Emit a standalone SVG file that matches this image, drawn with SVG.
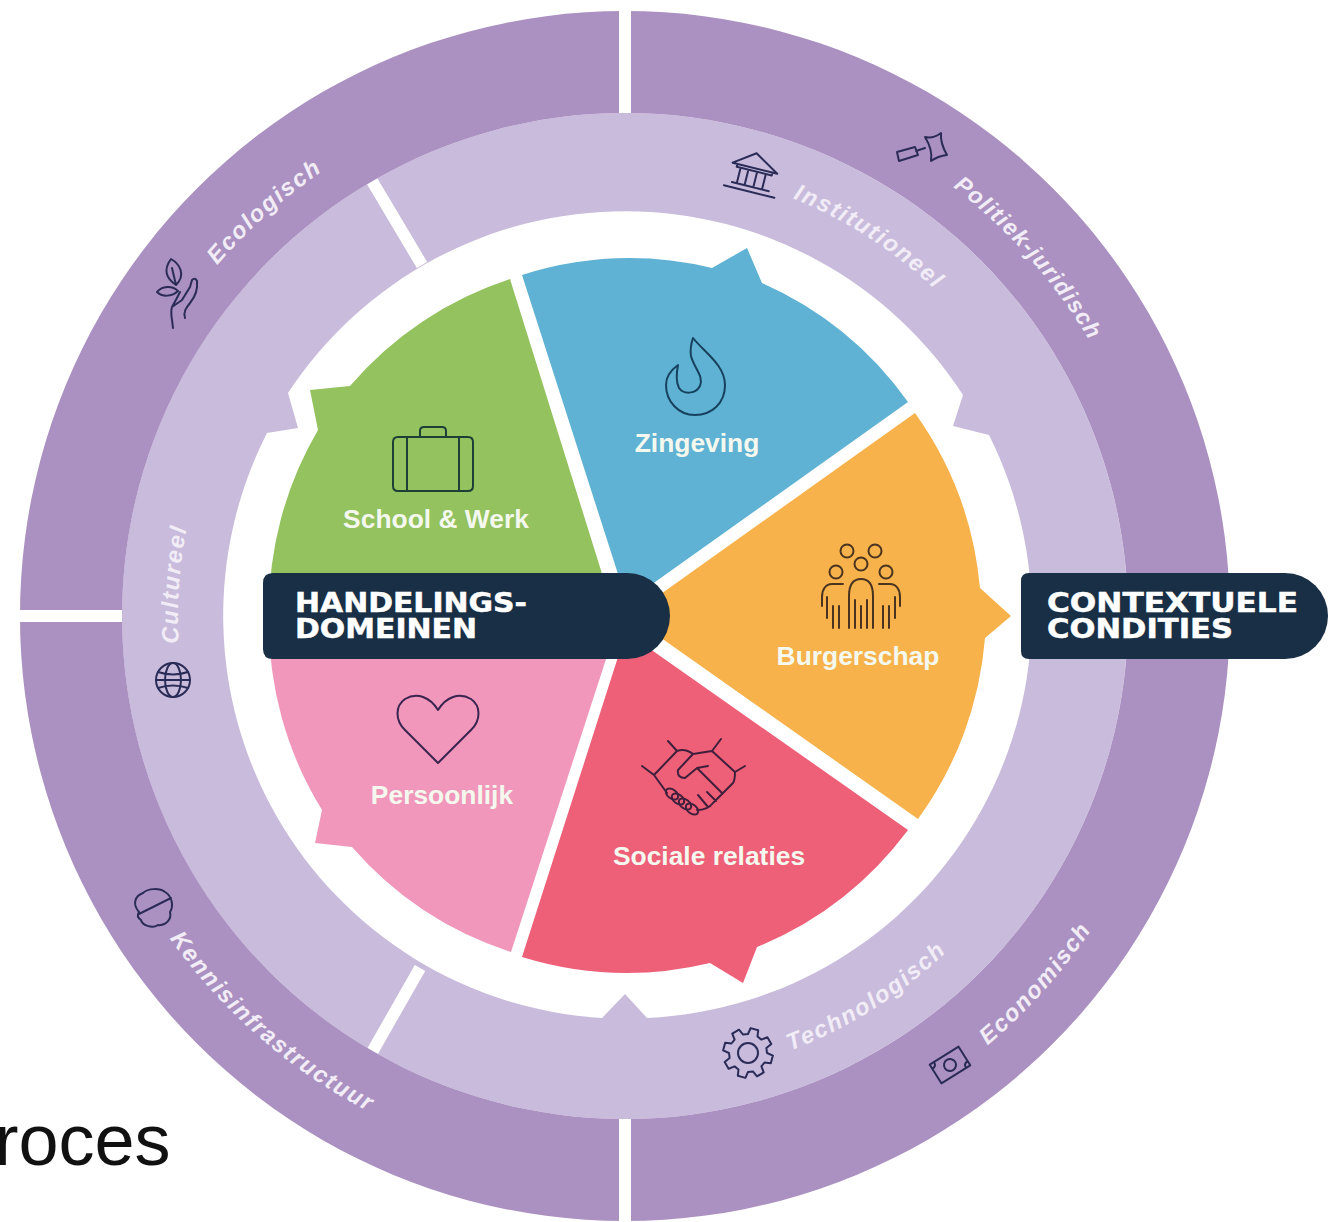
<svg xmlns="http://www.w3.org/2000/svg" width="1338" height="1222" viewBox="0 0 1338 1222">
<style>
text{font-family:"Liberation Sans",Arial,sans-serif}
.pl{font-weight:700;font-size:26.4px;fill:#f4f8ee;text-anchor:middle}
.rl{font-weight:700;font-style:italic;font-size:23.5px;letter-spacing:1.7px;fill:#f1ecf6}
.hd{font-family:"DejaVu Sans",sans-serif;font-weight:700;font-size:27px;fill:#fff;stroke:#fff;stroke-width:.5px}
.ic{fill:none;stroke-width:2;stroke-linejoin:round;stroke-linecap:round}
.nv{stroke:#2a2c57}
</style>
<defs>
<path id="a1" d="M952.9,187.2 A540,540 0 0 1 1146.6,476.1"/>
<path id="a2" d="M792.9,198.4 A450,450 0 0 1 1032.8,425.7"/>
<path id="a3" d="M217.2,265.2 A538,538 0 0 1 531.6,86.2"/>
<path id="a4" d="M178.9,643.3 A447,447 0 0 1 282.6,328.6"/>
<path id="a5" d="M790.1,1050.8 A465,465 0 0 0 1062,775"/>
<path id="a6" d="M987.5,1045.4 A562,562 0 0 0 1184.9,665"/>
<path id="a7" d="M169.7,938.5 A558,558 0 0 0 528.1,1165.5"/>
</defs>
<rect width="1338" height="1222" fill="#fff"/>
<g id="ring-inner">
<path fill="#c9bbdc" fill-rule="evenodd" d="M625,113 A503,503 0 1 1 624.9,113 Z M963,395 L953,426 L989,435 A403,403 0 0 1 647,1018 L625,994 L602,1018 A403,403 0 0 1 267,433 L298,428 L288,393 A403,403 0 0 1 963,395 Z"/>
<path d="M372,181 L422,265 M371,1054 L420,968" stroke="#fff" stroke-width="12" fill="none"/>
</g>
<g id="ring-outer">
<path fill="#ab91c1" fill-rule="evenodd" d="M625,11 A605,605 0 1 1 624.9,11 Z M625,113 A503,503 0 1 0 625.1,113 Z"/>
<path d="M619,5H631V113H619Z M619,1119H631V1222H619Z M14,610H122V622H14Z" fill="#fff"/>
</g>
<g id="school-werk">
<path fill="#93c25f" d="M604,580 L510,279 A356,356 0 0 0 350,386 L310,390 L318,430 A356,356 0 0 0 269,616 L616,616 Z"/>
<path class="ic" stroke="#1d3f36" d="M398,437H468Q473,437 473,442V486Q473,491 468,491H398Q393,491 393,486V442Q393,437 398,437Z M407,437V491 M459,437V491 M420,437V431Q420,427 424,427H442Q446,427 446,431V437"/>
<text class="pl" x="436" y="528">School &amp; Werk</text>
</g>
<g id="zingeving">
<path fill="#5fb2d3" d="M627,602 L522,275 A356,356 0 0 1 712,268 L747,248 L762,283 A356,356 0 0 1 908,402 Z"/>
<path class="ic" stroke="#17405e" d="M693,338 C704,352 725,365 725,385 C725,403 712,415 695,415 C678,415 666,401 666,385 C666,376 671,370 678,365 C676,375 676,382 679,388 C683,394 695,395 700,386 C704,376 694,368 691,356 C690,350 691,344 693,338 Z"/>
<text class="pl" x="697" y="452">Zingeving</text>
</g>
<g id="burgerschap">
<path fill="#f7b24b" d="M630,616 L915,413 A356,356 0 0 1 980,588 L1011,616 L985,638 A356,356 0 0 1 918,819 Z"/>
<g class="ic" stroke="#4a3420">
<circle cx="847" cy="551" r="6.5"/><circle cx="875" cy="551" r="6.5"/><circle cx="861" cy="564" r="6.5"/><circle cx="836" cy="572" r="6.5"/><circle cx="886" cy="572" r="6.5"/>
<path d="M849,628V596C849,585 853,579 861,579C869,579 873,585 873,596V628 M855,600V628 M861,606V628 M867,600V628 M843,584H832C826,584 822,589 822,597V606 M827,597V618 M833,606V628 M839,606V628 M879,584H890C896,584 900,589 900,597V606 M895,597V618 M889,606V628 M883,606V628"/>
</g>
<text class="pl" x="858" y="665">Burgerschap</text>
</g>
<g id="sociale-relaties">
<path fill="#ee5f78" d="M626,632 L908,830 A356,356 0 0 1 757,947 L743,983 L710,963 A356,356 0 0 1 522,957 Z"/>
<g class="ic" stroke="#3f1f3c">
<path d="M668,741L677,751 M642,766L654,775 M721,739L712,751 M745,766L735,772 M654,775L677,751 M712,751L735,772 M677,751Q685,748 693,754L712,751 M693,754L678,770Q677,778 685,778L697,768L708,766 M697,768L722,793 M735,772Q735,780 733,783L713,803Q708,810 697,810 M654,775L667,793 M698,795L708,807 M707,792L716,801"/>
<ellipse cx="672" cy="794" rx="7" ry="4.5" transform="rotate(38 672 794)"/><ellipse cx="678" cy="799" rx="7" ry="4.5" transform="rotate(38 678 799)"/><ellipse cx="685" cy="804" rx="7" ry="4.5" transform="rotate(38 685 804)"/><ellipse cx="692" cy="809" rx="7" ry="4.5" transform="rotate(38 692 809)"/>
</g>
<text class="pl" x="709" y="865">Sociale relaties</text>
</g>
<g id="persoonlijk">
<path fill="#f097bb" d="M620,616 L511,952 A356,356 0 0 1 352,847 L315,843 L322,810 A356,356 0 0 1 269,616 Z"/>
<path class="ic" stroke="#3b2450" d="M438,763 L405,730 C395,720 395,706 405,699 C417,692 430,697 438,710 C446,697 459,692 471,699 C481,706 481,720 471,730 Z"/>
<text class="pl" x="442" y="804">Persoonlijk</text>
</g>
<g id="label-handelingsdomeinen">
<path fill="#182f45" d="M273,573H627A43,43 0 0 1 670,616A43,43 0 0 1 627,659H273Q263,659 263,649V583Q263,573 273,573Z"/>
<text class="hd" x="295" y="612" textLength="232" lengthAdjust="spacingAndGlyphs">HANDELINGS-</text>
<text class="hd" x="295" y="638" textLength="182" lengthAdjust="spacingAndGlyphs">DOMEINEN</text>
</g>
<g id="label-contextuele-condities">
<path fill="#182f45" d="M1029,573H1285A43,43 0 0 1 1328,616A43,43 0 0 1 1285,659H1029Q1021,659 1021,651V581Q1021,573 1029,573Z"/>
<text class="hd" x="1047" y="612" textLength="251" lengthAdjust="spacingAndGlyphs">CONTEXTUELE</text>
<text class="hd" x="1047" y="638" textLength="186" lengthAdjust="spacingAndGlyphs">CONDITIES</text>
</g>
<g id="politiek-juridisch">
<text class="rl" style="font-size:23px;letter-spacing:1.2px"><textPath href="#a1">Politiek-juridisch</textPath></text>
<path class="ic nv" d="M897,152L915,147L918,155L899,161Z M916,151L925,148 M925,137Q933,139 941,133Q940,143 947,155Q938,156 931,161Q933,150 925,137Z"/>
</g>
<g id="institutioneel">
<text class="rl"><textPath href="#a2">Institutioneel</textPath></text>
<g class="ic nv" transform="translate(753 176) rotate(14)"><path d="M-23,-8L-2,-23L23,-8Z M-18,-8V-5H18V-8 M-14,-5V11 M-6,-5V11 M3,-5V11 M12,-5V11 M-19,11H19 M-26,16H26"/></g>
</g>
<g id="ecologisch">
<text class="rl"><textPath href="#a3">Ecologisch</textPath></text>
<path class="ic nv" d="M176,285C166,278 163,270 171,259C180,264 186,275 176,285Z M172,268L176,285 M157,292C162,286 172,285 178,291C172,297 162,297 157,292Z M173,328C172,318 170,312 172,307L182,300L190,287L192,280Q195,277 197,281C198,290 195,297 190,303C186,308 183,312 185,318 M172,307C176,300 178,296 180,292"/>
</g>
<g id="cultureel">
<text class="rl"><textPath href="#a4">Cultureel</textPath></text>
<g class="ic nv"><circle cx="173" cy="680" r="17"/><ellipse cx="173" cy="680" rx="8" ry="17"/><path d="M158,672Q173,677 188,672 M158,688Q173,683 188,688 M156,680H190"/></g>
</g>
<g id="technologisch">
<text class="rl"><textPath href="#a5">Technologisch</textPath></text>
<g class="ic nv"><path d="M767,1053L772.9,1055.6L770.8,1063.2L764.5,1062.5L761.4,1066.4L763.7,1072.4L757,1076.3L752.9,1071.4L748,1072L745.4,1077.9L737.8,1075.8L738.5,1069.5L734.6,1066.4L728.6,1068.7L724.7,1062L729.6,1057.9L729,1053L723.1,1050.4L725.2,1042.8L731.5,1043.5L734.6,1039.6L732.3,1033.6L739,1029.7L743.1,1034.6L748,1034L750.6,1028.1L758.2,1030.2L757.5,1036.5L761.4,1039.6L767.4,1037.3L771.3,1044L766.4,1048.1Z"/><circle cx="748" cy="1053" r="10"/></g>
</g>
<g id="economisch">
<text class="rl"><textPath href="#a6">Economisch</textPath></text>
<g class="ic nv" transform="translate(950 1065) rotate(-32)"><path d="M-17,-11H17V11H-17Z M-17,-6Q-12,-6 -12,-11 M17,6Q12,6 12,11"/><circle r="6"/></g>
</g>
<g id="kennisinfrastructuur">
<text class="rl"><textPath href="#a7">Kennisinfrastructuur</textPath></text>
<path class="ic nv" d="M139,912C132,904 135,896 143,893C148,888 160,888 165,892C172,896 174,906 170,912C172,920 165,926 158,925C152,929 142,925 141,920C138,918 137,915 139,912Z M139,914L171,898"/>
</g>
<g id="caption"><text x="-5.5" y="1165" font-size="72" fill="#111">roces</text></g>
</svg>
